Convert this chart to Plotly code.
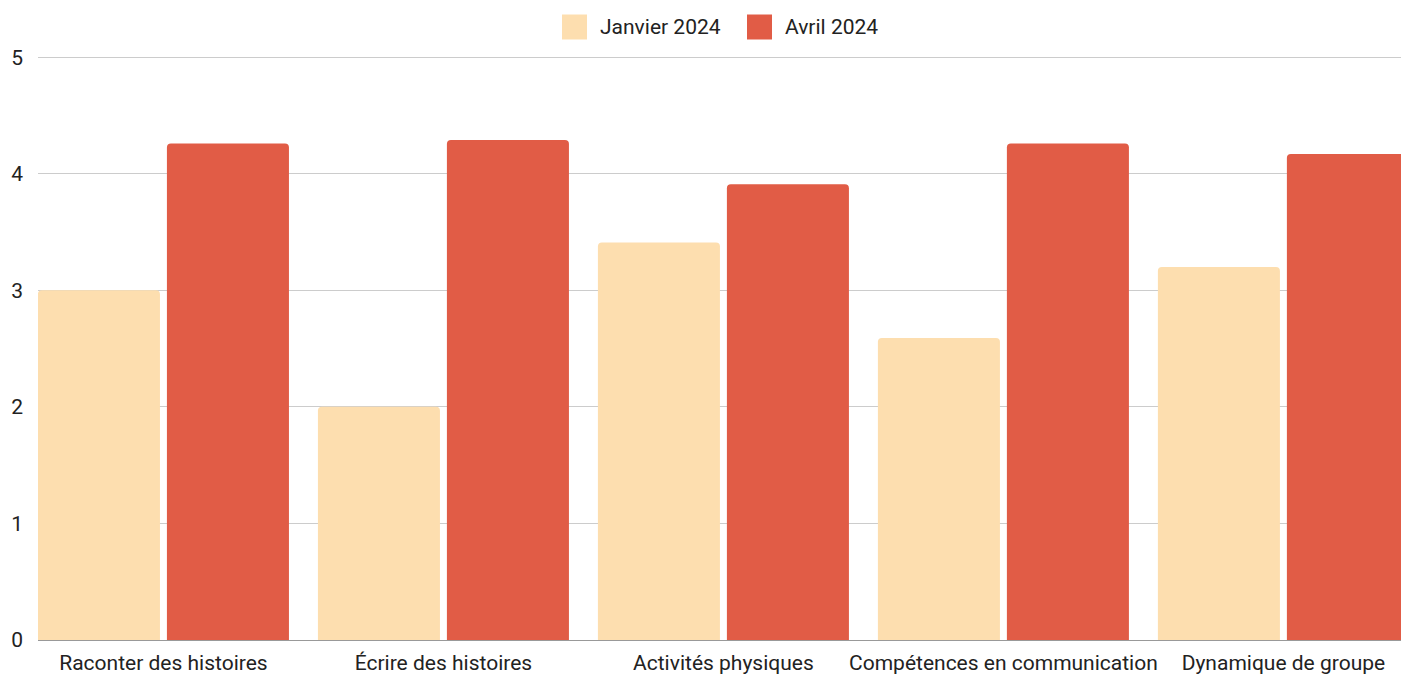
import plotly.graph_objects as go

categories = ["Raconter des histoires", "Écrire des histoires", "Activités physiques",
              "Compétences en communication", "Dynamique de groupe"]
janvier = [3.0, 2.0, 3.41, 2.59, 3.2]
avril = [4.26, 4.29, 3.91, 4.26, 4.17]
series_names = ["Janvier 2024", "Avril 2024"]
colors = ["#FDDEAF", "#E15C46"]

fig = go.Figure()
for name, vals, col in zip(series_names, [janvier, avril], colors):
    fig.add_trace(go.Bar(x=categories, y=vals, name=name, showlegend=False,
                         hoverinfo="skip",
                         marker=dict(color=col, cornerradius=4, line=dict(width=0))))

W, H = 1401, 675
PL, PR, PT, PB = 38, 1401, 56, 640  # plot area in page pixels
YMAX = 5.01


def px_x(px):
    return (px - PL) / (PR - PL)


def px_y(py):
    return (PB - py) / (PB - PT)


# manual legend (large square swatches like the reference)
legend_items = [(562, 598, series_names[0], colors[0]), (747, 783, series_names[1], colors[1])]
for sx, tx, name, col in legend_items:
    fig.add_shape(type="rect", xref="paper", yref="paper",
                  x0=px_x(sx), x1=px_x(sx + 25), y0=px_y(39.5), y1=px_y(14.5),
                  fillcolor=col, line=dict(width=0), layer="above")
    fig.add_annotation(xref="paper", yref="paper", x=px_x(tx), y=px_y(27),
                       xanchor="left", yanchor="middle", text=name, showarrow=False,
                       font=dict(family="Roboto", size=21, color="#222222"))

fig.update_layout(
    width=W, height=H,
    margin=dict(l=PL, r=W - PR, t=PT, b=H - PB),
    paper_bgcolor="white", plot_bgcolor="white",
    font=dict(family="Roboto", size=21, color="#222222"),
    barmode="group", bargap=0.0786, bargroupgap=0.054,
    showlegend=False,
    xaxis=dict(range=[-0.448, 4.42], showgrid=False, showline=True,
               linecolor="#999999", linewidth=1, ticks="", ticklabelstandoff=4,
               tickfont=dict(size=21, color="#222222"), fixedrange=True),
    yaxis=dict(range=[0, YMAX], tickvals=[0, 1, 2, 3, 4, 5], showgrid=True,
               gridcolor="#CCCCCC", gridwidth=1,
               zeroline=False, showline=False, ticks="", ticklabelstandoff=14,
               tickfont=dict(size=21, color="#222222"), fixedrange=True),
)

fig.write_html("out.html", config={"displayModeBar": False},
               post_script="document.body.style.margin='0';document.body.style.overflow='hidden';")
